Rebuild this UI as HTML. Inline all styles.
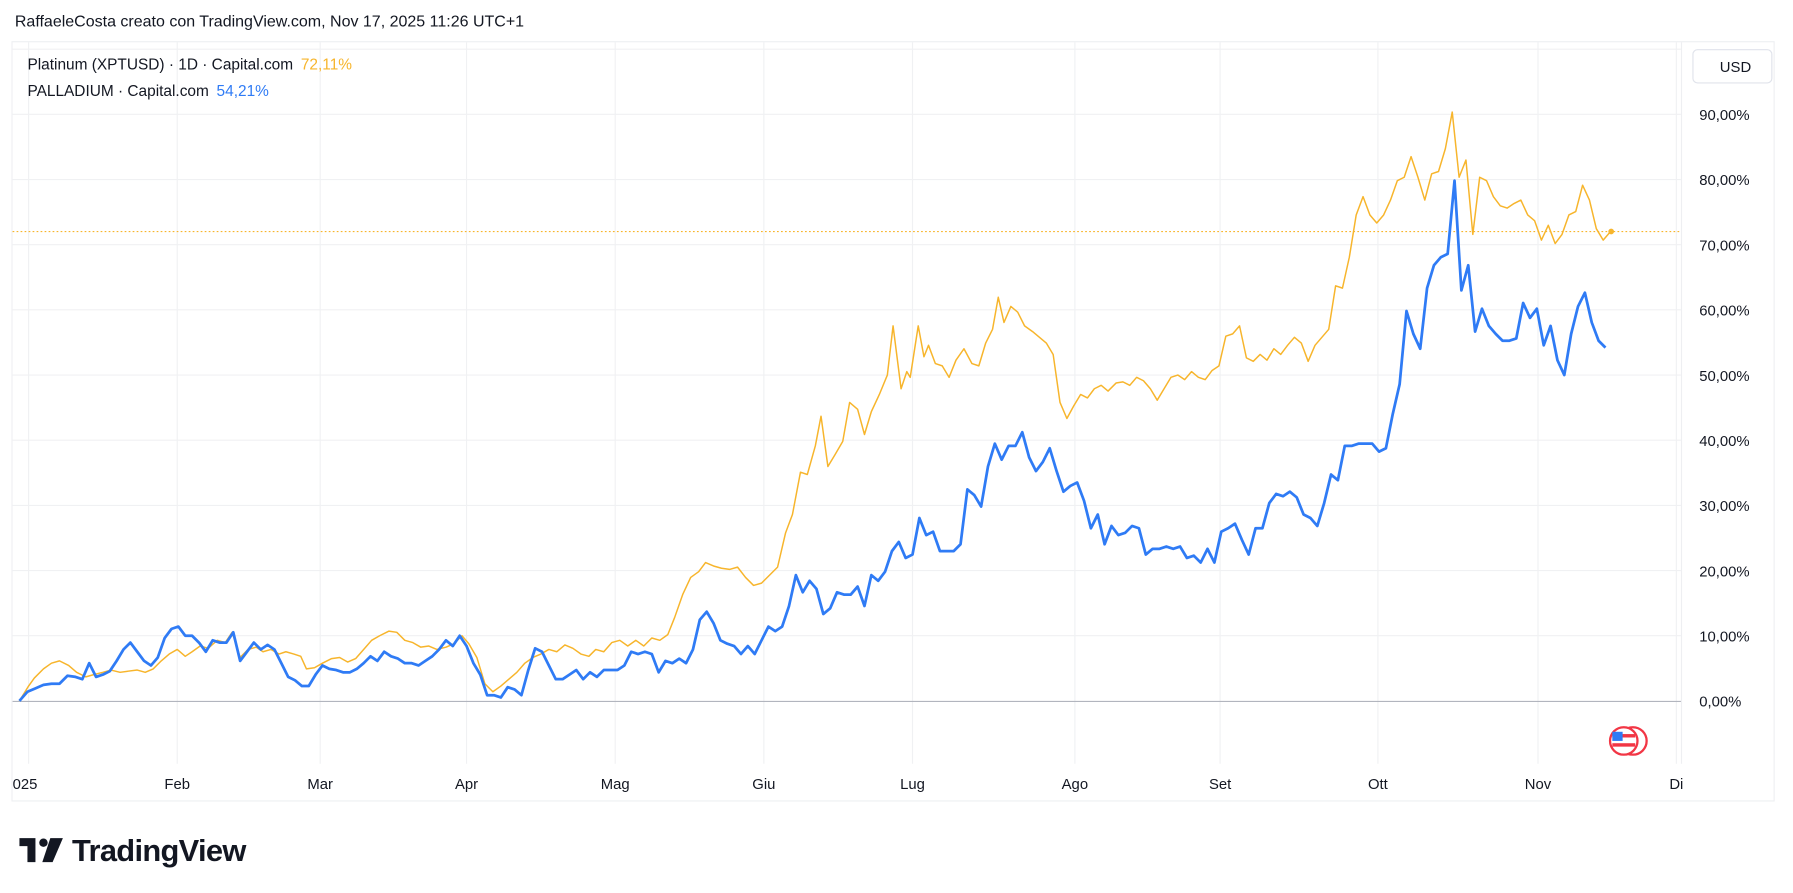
<!DOCTYPE html>
<html><head><meta charset="utf-8"><style>
html,body{margin:0;padding:0;background:#fff;width:1793px;height:893px;overflow:hidden}
svg{display:block}
text{font-family:"Liberation Sans",sans-serif}
</style></head><body>
<svg width="1793" height="893" viewBox="0 0 1568 781" preserveAspectRatio="none">
<text x="13" y="23" font-size="14" fill="#131722">RaffaeleCosta creato con TradingView.com, Nov 17, 2025 11:26 UTC+1</text>
<rect x="10.5" y="36.5" width="1541" height="664" fill="#fff" stroke="#eeeff2"/>
<line x1="1470.5" y1="37" x2="1470.5" y2="668" stroke="#eeeff2"/>
<g stroke="#f0f1f3" stroke-width="1">
<line x1="11" y1="43" x2="1470" y2="43"/>
<line x1="11" y1="100" x2="1470" y2="100"/><line x1="11" y1="157" x2="1470" y2="157"/>
<line x1="11" y1="214" x2="1470" y2="214"/><line x1="11" y1="271" x2="1470" y2="271"/>
<line x1="11" y1="328" x2="1470" y2="328"/><line x1="11" y1="385" x2="1470" y2="385"/>
<line x1="11" y1="442" x2="1470" y2="442"/><line x1="11" y1="499" x2="1470" y2="499"/>
<line x1="11" y1="556" x2="1470" y2="556"/>
<line x1="25" y1="37" x2="25" y2="668"/><line x1="155" y1="37" x2="155" y2="668"/>
<line x1="280" y1="37" x2="280" y2="668"/><line x1="408" y1="37" x2="408" y2="668"/>
<line x1="538" y1="37" x2="538" y2="668"/><line x1="668" y1="37" x2="668" y2="668"/>
<line x1="798" y1="37" x2="798" y2="668"/><line x1="940" y1="37" x2="940" y2="668"/>
<line x1="1067" y1="37" x2="1067" y2="668"/><line x1="1205" y1="37" x2="1205" y2="668"/>
<line x1="1345" y1="37" x2="1345" y2="668"/><line x1="1466" y1="37" x2="1466" y2="668"/>
</g>
<line x1="11" y1="613.5" x2="1470" y2="613.5" stroke="#b2b5be"/>
<line x1="11" y1="202.5" x2="1470" y2="202.5" stroke="#f7b52c" stroke-dasharray="1.5,2" stroke-width="1"/>
<polyline fill="none" stroke="#f7b52c" stroke-width="1.3" stroke-linejoin="round" points="17,613 25,600 30,593 38,585 45,580 52,578 60,582 67,588 75,592 82,590 90,588 97,586 105,588 112,587 120,586 127,588 134,585 141,578 148,572 155,568 162,574 168,570 175,565 182,567 190,560 197,562 203,553 210,575 217,568 224,566 230,570 237,568 244,572 250,570 257,572 263,574 268,585 275,584 282,580 290,576 297,575 304,579 311,576 318,568 325,560 332,556 340,552 347,553 354,560 361,562 368,566 375,565 382,568 390,566 397,563 404,556 410,563 417,575 424,598 431,605 438,600 445,594 452,588 459,580 466,575 473,572 480,568 487,570 494,564 501,567 508,572 515,574 521,568 528,570 535,562 542,560 549,565 556,560 563,565 570,558 577,560 584,555 590,540 597,520 604,505 611,500 617,492 624,495 631,497 638,498 645,496 652,505 659,512 666,510 673,503 680,496 687,466 693,450 700,413 706,415 713,390 718,364 724,408 730,398 737,386 743,352 750,358 756,380 762,360 769,345 776,328 781,285 788,340 793,325 796,330 803,285 808,312 812,302 818,318 824,320 830,330 836,315 843,305 850,318 856,320 862,300 868,288 873,260 878,282 884,268 890,273 896,285 903,290 909,295 915,300 921,310 927,352 933,366 939,355 945,345 951,348 957,340 963,337 969,342 976,335 982,334 988,337 994,330 1000,333 1006,340 1012,350 1018,340 1024,330 1030,328 1036,332 1042,325 1048,330 1054,332 1060,324 1066,320 1072,294 1078,292 1084,285 1090,313 1096,316 1102,310 1108,315 1114,305 1120,310 1126,302 1132,295 1138,300 1144,316 1150,302 1156,295 1162,288 1168,250 1174,252 1180,225 1186,188 1192,172 1198,188 1204,195 1210,188 1216,175 1222,158 1228,155 1234,137 1240,155 1246,175 1252,152 1258,150 1264,130 1270,98 1276,155 1282,140 1288,205 1294,155 1300,158 1306,172 1312,180 1318,182 1324,178 1330,175 1336,188 1342,193 1348,210 1354,197 1360,213 1366,205 1372,188 1378,185 1384,162 1390,175 1396,200 1402,210 1408,203"/>
<circle cx="1409" cy="202.5" r="2.5" fill="#f7b52c"/>
<polyline fill="none" stroke="#2f7bf5" stroke-width="2.4" stroke-linejoin="round" points="17,613 24,605 31,602 38,599 45,598 52,598 59,591 66,592 72,594 78,580 84,592 90,590 96,587 102,578 108,568 114,562 120,570 126,578 132,582 138,575 144,558 150,550 156,548 162,556 168,556 174,562 180,570 186,560 192,562 198,562 204,553 210,578 216,570 222,562 228,568 234,564 240,568 246,580 252,592 258,595 264,600 270,600 276,590 282,582 288,585 294,586 300,588 306,588 312,585 318,580 324,574 330,578 336,570 342,574 348,576 354,580 360,580 366,582 372,578 378,574 384,568 390,560 396,565 402,556 408,565 414,580 420,590 426,608 432,608 438,610 444,601 450,603 456,608 462,586 468,567 474,570 480,582 486,594 492,594 498,590 504,586 510,594 516,588 522,592 528,586 534,586 540,586 546,582 552,570 558,572 564,570 570,572 576,588 582,578 588,580 594,576 600,580 606,568 612,542 618,535 624,545 630,560 636,563 642,565 648,572 654,565 660,572 666,560 672,548 678,552 684,548 690,530 696,503 702,518 708,508 714,515 720,537 726,532 732,518 738,520 744,520 750,513 756,530 762,503 768,508 774,500 780,482 786,474 792,488 798,485 804,453 810,468 816,465 822,482 828,482 834,482 840,476 846,428 852,433 858,443 864,408 870,388 876,402 882,390 888,390 894,378 900,400 906,412 912,404 918,392 924,412 930,430 936,425 942,422 948,438 954,462 960,450 966,476 972,460 978,468 984,466 990,460 996,462 1002,485 1008,480 1014,480 1020,478 1026,480 1032,478 1038,488 1044,486 1050,492 1056,480 1062,492 1068,465 1074,462 1080,458 1086,472 1092,485 1098,462 1104,462 1110,440 1116,432 1122,434 1128,430 1134,435 1140,450 1146,453 1152,460 1158,440 1164,415 1170,420 1176,390 1182,390 1188,388 1194,388 1200,388 1206,395 1212,392 1218,362 1224,336 1230,272 1236,292 1242,305 1248,252 1254,232 1260,225 1266,222 1272,158 1278,254 1284,232 1290,290 1296,270 1302,285 1308,292 1314,298 1320,298 1326,296 1332,265 1338,278 1344,270 1350,302 1356,285 1362,315 1368,328 1374,292 1380,268 1386,256 1392,282 1398,298 1404,304"/>
<g font-size="13.5" fill="#131722">
<text x="24" y="61">Platinum (XPTUSD) · 1D · Capital.com <tspan fill="#f7b52c" dx="3">72,11%</tspan></text>
<text x="24" y="84">PALLADIUM · Capital.com <tspan fill="#2f7bf5" dx="3">54,21%</tspan></text>
</g>
<rect x="1480.5" y="43.5" width="69" height="29" rx="4" fill="#fff" stroke="#e0e3eb"/>
<text x="1504" y="63" font-size="13" fill="#131722">USD</text>
<g font-size="13" fill="#131722" text-anchor="start">
<text x="1486" y="105">90,00%</text><text x="1486" y="162">80,00%</text>
<text x="1486" y="219">70,00%</text><text x="1486" y="276">60,00%</text>
<text x="1486" y="333">50,00%</text><text x="1486" y="390">40,00%</text>
<text x="1486" y="447">30,00%</text><text x="1486" y="504">20,00%</text>
<text x="1486" y="561">10,00%</text><text x="1486" y="618">0,00%</text>
</g>
<text x="11" y="690" font-size="13" fill="#131722">025</text>
<g font-size="13" fill="#131722" text-anchor="middle">
<text x="155" y="690">Feb</text><text x="280" y="690">Mar</text>
<text x="408" y="690">Apr</text><text x="538" y="690">Mag</text><text x="668" y="690">Giu</text>
<text x="798" y="690">Lug</text><text x="940" y="690">Ago</text><text x="1067" y="690">Set</text>
<text x="1205" y="690">Ott</text><text x="1345" y="690">Nov</text><text x="1466" y="690">Di</text>
</g>
<g>
<circle cx="1428" cy="648" r="12" fill="none" stroke="#f23645" stroke-width="2"/>
<circle cx="1420" cy="648" r="12" fill="#fff" stroke="#f23645" stroke-width="2"/>
<rect x="1410" y="642" width="20" height="3" fill="#f23645"/>
<rect x="1410" y="650" width="20" height="3" fill="#f23645"/>
<rect x="1410" y="640" width="9" height="8" fill="#2f7bf5"/>
</g>
<g fill="#131722">
<path d="M17 733h14v21h-7v-14h-7z"/>
<circle cx="38" cy="737" r="3.7"/>
<path d="M44 733h11l-9 21h-9z"/>
</g>
<text x="63" y="753" font-size="27" font-weight="bold" fill="#131722" letter-spacing="-0.6">TradingView</text>
</svg>
</body></html>
